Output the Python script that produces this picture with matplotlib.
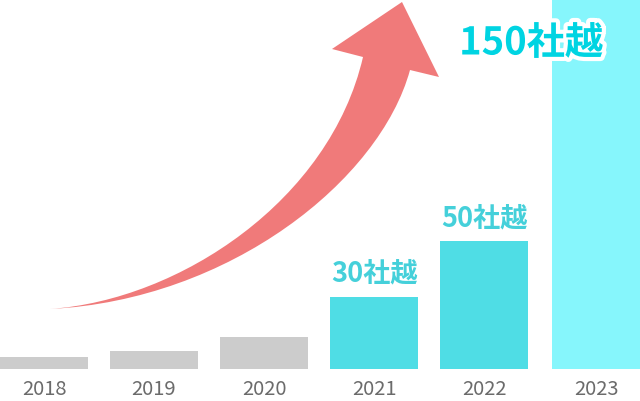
import numpy as np
import matplotlib.pyplot as plt
from matplotlib.path import Path
from matplotlib.patches import PathPatch
import matplotlib.patheffects as pe

plt.rcParams['font.family'] = ['Noto Sans CJK JP', 'DejaVu Sans']

# bar heights (arbitrary units, baseline = 0)
years = ['2018', '2019', '2020', '2021', '2022', '2023']
values = [12, 18, 32, 72, 128, 369]
counts = ['', '', '', '30社越', '50社越', '150社越']
colors = ['#cccccc', '#cccccc', '#cccccc', '#4fdde5', '#4fdde5', '#86f6fc']

W, H = 640, 401
fig = plt.figure(figsize=(W / 100, H / 100), dpi=100)

# bar axes: baseline sits 32 px above the bottom edge
ax = fig.add_axes([0, 32 / H, 1, 369 / H])
x = np.arange(len(years), dtype=float)
x[-1] += 2 / 110  # last bar is pushed flush to the right edge
ax.bar(x, values, width=0.8, color=colors, zorder=2)
ax.set_xlim(-0.4, -0.4 + W / 110)
ax.set_ylim(0, 369)
ax.set_xticks(x, years)
ax.tick_params(axis='x', length=0, pad=7, labelsize=14.5, labelcolor='#6b6b6b')
ax.set_yticks([])
for s in ax.spines.values():
    s.set_visible(False)
ax.patch.set_alpha(0)

for i, off in ((3, 17), (4, 16)):
    ax.annotate(counts[i], (x[i], values[i]), xytext=(0, off), textcoords='offset points',
                ha='center', va='center', fontsize=19.5, color='#45d0da', fontweight='bold')

ax.text(x[5] - 0.59, 326, counts[5], ha='center', va='center', fontsize=27.5,
        fontweight='bold', color='#00d4e2', zorder=5,
        path_effects=[pe.withStroke(linewidth=6, foreground='white')])

# curved arrow, drawn in pixel coordinates on an overlay
ov = fig.add_axes([0, 0, 1, 1], zorder=-1)
ov.set_xlim(0, W)
ov.set_ylim(H, 0)
ov.axis('off')

verts = [
    (50, 309),
    (180, 300), (330, 200), (363, 57),     # upper edge
    (332, 49), (402, 2), (439, 77), (410, 70),  # arrow head
    (380, 180), (230, 300), (50, 309),     # lower edge back to tail
    (50, 309),
]
codes = [Path.MOVETO,
         Path.CURVE4, Path.CURVE4, Path.CURVE4,
         Path.LINETO, Path.LINETO, Path.LINETO, Path.LINETO,
         Path.CURVE4, Path.CURVE4, Path.CURVE4,
         Path.CLOSEPOLY]
ov.add_patch(PathPatch(Path(verts, codes), facecolor='#f07a7a', edgecolor='none'))

plt.savefig('out.png', dpi=100)
